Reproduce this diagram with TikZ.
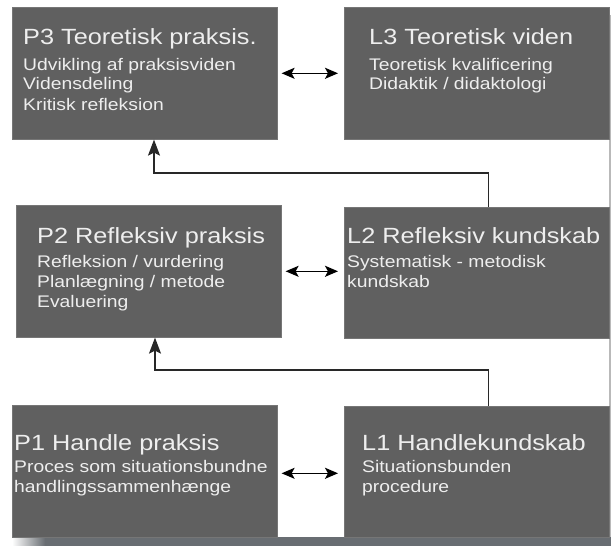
\documentclass[tikz,border=0pt]{standalone}
\usepackage{fontspec}
\newfontfamily\boxfont{Liberation Sans}[FakeStretch=1.15]
\usetikzlibrary{arrows.meta}
\definecolor{boxgray}{RGB}{96,96,96}
\definecolor{boxedge}{RGB}{118,118,118}
\definecolor{boxtext}{RGB}{238,238,238}
\definecolor{shadowgray}{RGB}{104,109,114}
\definecolor{linegray}{RGB}{40,40,40}
\tikzset{
  panel/.style={draw=boxedge, line width=0.6pt, fill=boxgray, anchor=north west,
    minimum width=265pt, minimum height=132pt, inner sep=0pt},
  headline/.style={anchor=base west, inner sep=0pt, text=boxtext,
    font=\boxfont\fontsize{22}{26}\selectfont},
  subline/.style={anchor=base west, inner sep=0pt, text=boxtext,
    font=\boxfont\fontsize{16.8}{20}\selectfont},
  twoway/.style={{Stealth[length=13pt,width=11pt,inset=3pt]}-{Stealth[length=13pt,width=11pt,inset=3pt]},
    line width=1.6pt, shorten <=4pt, shorten >=6pt},
  upward/.style={-{Stealth[length=16pt,width=12pt,inset=3pt]}, draw=linegray, line width=1.4pt}
}
\newcommand{\lines}[1]{\begin{tabular}[t]{@{}l@{}}#1\end{tabular}}
\begin{document}
\begin{tikzpicture}[x=1pt, y=-1pt]
\useasboundingbox (0,0) rectangle (611,546);
% shadow
\fill[gray!55] (609,15) rectangle (611,537);
\shade[left color=white, right color=shadowgray] (12,537) rectangle (45,546);
\fill[shadowgray] (45,537) rectangle (611,546);
% boxes
\node[panel] (p3) at (12,7) {};
\node[panel] (l3) at (344,7) {};
\node[panel] (p2) at (16,205) {};
\node[panel, minimum height=131pt] (l2) at (344,207) {};
\node[panel] (p1) at (12,405) {};
\node[panel, minimum height=131pt] (l1) at (344,406) {};
% texts
\node[headline] (p3t) at (23,45) {P3 Teoretisk praksis.};
\node[subline] (p3s) at (23,70) {\lines{Udvikling af praksisviden\\ Vidensdeling\\ Kritisk refleksion}};
\node[headline] (l3t) at (369,45) {L3 Teoretisk viden};
\node[subline] (l3s) at (369,70) {\lines{Teoretisk kvalificering\\ Didaktik / didaktologi}};
\node[headline] (p2t) at (37,243) {P2 Refleksiv praksis};
\node[subline] (p2s) at (37,267) {\lines{Refleksion / vurdering\\ Planlægning / metode\\ Evaluering}};
\node[headline] (l2t) at (347,243) {L2 Refleksiv kundskab};
\node[subline] (l2s) at (347,267) {\lines{Systematisk - metodisk\\ kundskab}};
\node[headline] (p1t) at (14,450) {P1 Handle praksis};
\node[subline] (p1s) at (14,472) {\lines{Proces som situationsbundne\\ handlingssammenhænge}};
\node[headline] (l1t) at (362,450) {L1 Handlekundskab};
\node[subline] (l1s) at (362,472) {\lines{Situationsbunden\\ procedure}};
% two-way arrows
\draw[twoway] (p3.east) -- (p3.east -| l3.west);
\draw[twoway] (p2.east) -- (p2.east -| l2.west);
\draw[twoway] ([yshift=-2pt]p1.east) -- ([yshift=-2pt]p1.east -| l1.west);
% upward arrows
\coordinate (bend3) at (154,173);
\coordinate (bend2) at (155,370);
\draw[upward] ([xshift=11.5pt]l2.north) |- (bend3) -- (bend3 |- p3.south);
\draw[upward] ([xshift=11.5pt]l1.north) |- (bend2) -- (bend2 |- p2.south);
\end{tikzpicture}
\end{document}
